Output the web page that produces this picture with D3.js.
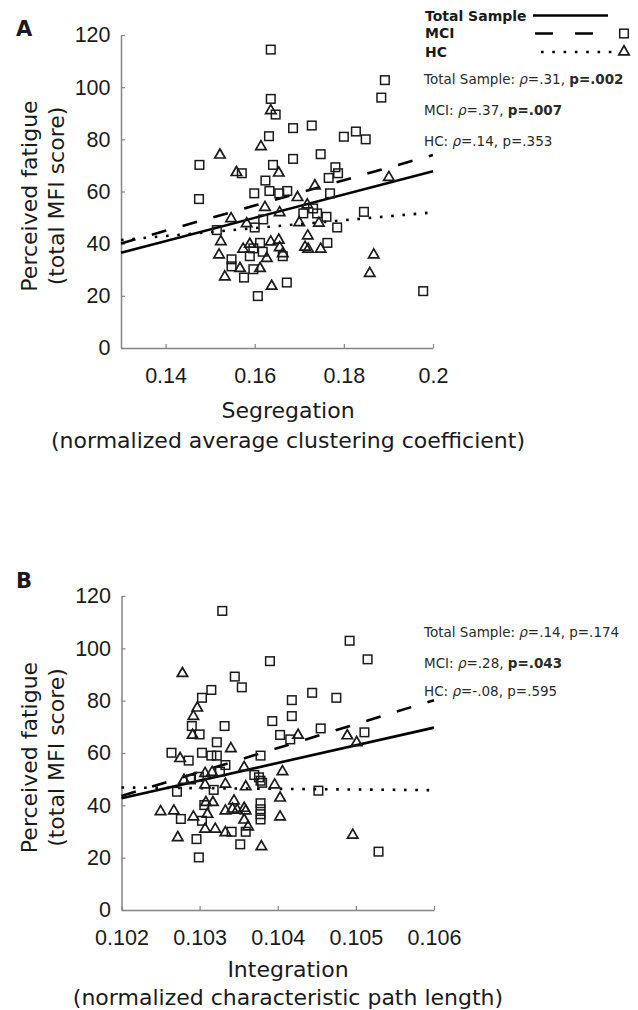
<!DOCTYPE html>
<html lang="en">
<head>
<meta charset="UTF-8">
<title>Fatigue vs network measures</title>
<script src="https://d3js.org/d3.v7.min.js"></script>
<style>
  body { margin: 0; background: #fff; }
  svg text { font-family: "DejaVu Sans", Verdana, sans-serif; }
</style>
</head>
<body>
<script>
  // ---- data ----
  const fatigueTicks = [0, 20, 40, 60, 80, 100, 120];

  // panel A : segregation (normalized average clustering coefficient)
  const segTicks = [0.14, 0.16, 0.18, 0.2];
  const segTickLabels = ["0.14", "0.16", "0.18", "0.2"];
  const segMCI = [
    [0.1636,114.4],[0.1636,95.5],[0.1647,89.5],[0.1686,84.3],[0.1728,85.3],[0.1632,81.2],
    [0.1476,70.2],[0.1748,74.3],[0.1686,72.5],[0.1641,70.2],[0.1571,67.0],[0.1624,64.2],
    [0.1766,65.2],[0.1475,57.1],[0.1599,59.3],[0.1633,60.2],[0.1655,59.3],[0.1673,60.2],
    [0.1769,59.3],[0.1731,53.5],[0.1740,51.6],[0.1709,51.6],[0.1761,50.3],[0.1619,49.3],
    [0.1600,46.2],[0.1515,45.2],[0.1548,34.0],[0.1548,31.3],[0.1576,27.0],[0.1597,30.2],
    [0.1589,35.2],[0.1597,38.2],[0.1612,40.3],[0.1618,36.9],[0.1663,35.2],[0.1763,40.3],
    [0.1607,19.9],[0.1672,25.1],[0.1781,69.3],[0.1787,67.0],[0.1785,46.2],[0.1845,52.2],
    [0.1978,21.8],[0.1892,102.7],[0.1884,96.0],[0.1800,81.0],[0.1827,83.0],[0.1849,80.0]
  ];
  const segHC = [
    [0.1636,91.3],[0.1614,77.5],[0.1522,74.3],[0.1559,67.6],[0.1654,67.4],[0.1735,62.5],
    [0.1696,58.0],[0.1623,54.2],[0.1656,52.2],[0.1718,55.2],[0.1547,49.9],[0.1582,48.0],
    [0.1700,48.4],[0.1744,48.2],[0.1524,41.1],[0.1520,36.0],[0.1533,27.6],[0.1567,30.8],
    [0.1612,30.8],[0.1627,34.7],[0.1574,38.2],[0.1589,40.1],[0.1636,41.0],[0.1654,41.7],
    [0.1656,38.8],[0.1663,36.5],[0.1719,43.3],[0.1713,39.0],[0.1720,38.2],[0.1748,38.2],
    [0.1638,24.0],[0.1901,65.7],[0.1867,36.0],[0.1858,28.9]
  ];
  const segFitTotal = [[0.13, 36.5], [0.2, 67.8]];
  const segFitMCI = [[0.13, 40.1], [0.2, 74.0]];
  const segFitHC = [[0.13, 41.4], [0.2, 52.0]];
  const segStats = [["Total Sample", ".31", ".002"], ["MCI", ".37", ".007"], ["HC", ".14", ".353"]];

  // panel B : integration (normalized characteristic path length)
  const intTicks = [0.102, 0.103, 0.104, 0.105, 0.106];
  const intTickLabels = ["0.102", "0.103", "0.104", "0.105", "0.106"];
  const intMCI = [
    [0.10329,114.3],[0.10390,95.1],[0.10345,89.2],[0.10354,85.1],[0.10315,84.1],[0.10303,81.1],
    [0.10290,70.3],[0.10332,70.3],[0.10300,67.1],[0.10393,72.2],[0.10403,66.9],[0.10322,64.1],
    [0.10264,60.1],[0.10286,57.1],[0.10303,60.1],[0.10315,59.0],[0.10322,59.0],[0.10378,59.0],
    [0.10416,65.2],[0.10370,51.6],[0.10376,50.7],[0.10378,49.4],[0.10326,52.9],[0.10333,55.4],
    [0.10289,49.9],[0.10299,50.9],[0.10380,48.6],[0.10271,45.2],[0.10318,45.9],[0.10306,40.1],
    [0.10378,40.8],[0.10378,38.5],[0.10378,36.6],[0.10378,34.6],[0.10276,34.8],[0.10303,34.1],
    [0.10341,29.9],[0.10359,29.9],[0.10296,27.1],[0.10352,25.1],[0.10299,20.1],[0.10492,102.9],
    [0.10515,95.8],[0.10444,83.0],[0.10475,81.1],[0.10418,80.2],[0.10418,74.1],[0.10455,69.4],
    [0.10511,67.9],[0.10452,45.6],[0.10529,22.3]
  ];
  const intHC = [
    [0.10278,90.7],[0.10297,77.5],[0.10292,74.3],[0.10291,67.1],[0.10340,62.0],[0.10275,58.2],
    [0.10426,67.1],[0.10406,53.2],[0.10357,54.8],[0.10280,49.9],[0.10307,52.5],[0.10316,52.9],
    [0.10307,48.1],[0.10333,48.4],[0.10359,47.4],[0.10396,48.1],[0.10403,43.1],[0.10308,41.4],
    [0.10317,41.4],[0.10344,42.0],[0.10250,37.9],[0.10267,38.2],[0.10310,36.9],[0.10333,38.2],
    [0.10342,38.9],[0.10348,38.5],[0.10357,39.2],[0.10359,38.2],[0.10403,35.9],[0.10292,35.9],
    [0.10357,34.7],[0.10362,32.1],[0.10307,31.2],[0.10320,31.2],[0.10333,29.9],[0.10272,28.0],
    [0.10379,24.5],[0.10489,66.9],[0.10501,64.3],[0.10496,28.9]
  ];
  const intFitTotal = [[0.102, 42.7], [0.106, 69.7]];
  const intFitMCI = [[0.102, 43.6], [0.106, 80.2]];
  const intFitHC = [[0.102, 46.8], [0.106, 45.8]];
  const intStats = [["Total Sample", ".14", ".174"], ["MCI", ".28", ".043"], ["HC", "-.08", ".595"]];

  // ---- drawing ----
  const svg = d3.select("body").append("svg")
      .attr("width", 638)
      .attr("height", 1010);

  const ink = "#1a1a1a";
  const dashMCI = "15,17";
  const dotHC = "2.6,8.7";
  const triPath = "M0,-5.2L5.2,3.8L-5.2,3.8Z";

  function panel(o) {
    const x = d3.scaleLinear().domain(o.xDomain).range([o.left, o.right]);
    const y = d3.scaleLinear().domain([0, 120]).range([o.bottom, o.top]);
    const g = svg.append("g");

    // axes, ticks point inwards like matlab
    const xAxis = g.append("g")
        .attr("transform", `translate(0,${o.bottom})`)
        .call(d3.axisBottom(x).tickValues(o.xTicks).tickFormat((d, i) => o.xLabels[i])
            .tickSizeInner(-4).tickSizeOuter(0).tickPadding(19.5));
    const yAxis = g.append("g")
        .attr("transform", `translate(${o.left},0)`)
        .call(d3.axisLeft(y).tickValues(fatigueTicks)
            .tickSizeInner(-4).tickSizeOuter(0).tickPadding(10.5));
    [xAxis, yAxis].forEach(a => {
      a.select(".domain").attr("stroke", "#858585").attr("stroke-width", 1.5);
      a.selectAll(".tick line").attr("stroke", "#858585").attr("stroke-width", 1.2);
      a.selectAll(".tick text")
          .attr("fill", ink)
          .style("font-family", "'Liberation Sans', Arial, sans-serif")
          .style("font-size", "21.5px");
    });

    // regression lines
    const fits = [
      {d: o.fitTotal, dash: null},
      {d: o.fitMCI, dash: dashMCI},
      {d: o.fitHC, dash: dotHC}
    ];
    fits.forEach(f => {
      g.append("line")
          .attr("x1", x(f.d[0][0])).attr("y1", y(f.d[0][1]))
          .attr("x2", x(f.d[1][0])).attr("y2", y(f.d[1][1]))
          .attr("stroke", "#000")
          .attr("stroke-width", 2.6)
          .attr("stroke-dasharray", f.dash);
    });

    // points
    g.append("g").selectAll("rect")
        .data(o.mci)
        .join("rect")
        .attr("x", d => x(d[0]) - 4.3)
        .attr("y", d => y(d[1]) - 4.3)
        .attr("width", 8.6)
        .attr("height", 8.6)
        .attr("fill", "none")
        .attr("stroke", ink)
        .attr("stroke-width", 1.5);
    g.append("g").selectAll("path")
        .data(o.hc)
        .join("path")
        .attr("d", triPath)
        .attr("transform", d => `translate(${x(d[0])},${y(d[1])})`)
        .attr("fill", "none")
        .attr("stroke", ink)
        .attr("stroke-width", 1.7)
        .attr("stroke-linejoin", "miter");

    // titles
    g.append("text")
        .attr("x", 16).attr("y", o.letterY)
        .attr("font-weight", "bold").attr("font-size", 21)
        .attr("fill", ink)
        .text(o.letter);
    const yc = (o.top + o.bottom) / 2 + 4.5;
    [["Perceived fatigue", 37], ["(total MFI score)", 63.5]].forEach(t => {
      g.append("text")
          .attr("transform", `translate(${t[1]},${yc}) rotate(-90)`)
          .attr("text-anchor", "middle")
          .attr("font-size", 22)
          .attr("fill", ink)
          .text(t[0]);
    });
    o.xTitle.forEach((t, i) => {
      g.append("text")
          .attr("x", 288).attr("y", o.xTitleY[i])
          .attr("text-anchor", "middle")
          .attr("font-size", 22)
          .attr("fill", ink)
          .text(t);
    });

    // correlation stats
    o.stats.forEach((s, i) => {
      const t = g.append("text")
          .attr("x", 424).attr("y", o.statY[i])
          .attr("font-size", 13.5)
          .attr("fill", "#2a2a2a");
      t.append("tspan").text(s[0] + ": ");
      t.append("tspan").attr("font-style", "italic").text("\u03c1");
      t.append("tspan").text("=" + s[1] + ", ");
      t.append("tspan").attr("font-weight", +s[2] < 0.05 ? "bold" : null).text("p=" + s[2]);
    });
  }

  panel({
    letter: "A", letterY: 36,
    xDomain: [0.13, 0.2], left: 121, right: 433, top: 35, bottom: 348,
    xTicks: segTicks, xLabels: segTickLabels,
    mci: segMCI, hc: segHC,
    fitTotal: segFitTotal, fitMCI: segFitMCI, fitHC: segFitHC,
    xTitle: ["Segregation", "(normalized average clustering coefficient)"], xTitleY: [418, 448],
    stats: segStats, statY: [83.5, 115, 146]
  });

  panel({
    letter: "B", letterY: 588,
    xDomain: [0.102, 0.106], left: 121.5, right: 434, top: 596, bottom: 910,
    xTicks: intTicks, xLabels: intTickLabels,
    mci: intMCI, hc: intHC,
    fitTotal: intFitTotal, fitMCI: intFitMCI, fitHC: intFitHC,
    xTitle: ["Integration", "(normalized characteristic path length)"], xTitleY: [977, 1005],
    stats: intStats, statY: [637, 667.5, 695.5]
  });

  // legend (top right)
  const leg = svg.append("g");
  const legRows = [
    {name: "Total Sample", y: 20.7, ly: 15.5, x1: 533, x2: 608, dash: null, mark: null},
    {name: "MCI", y: 38.3, ly: 33.5, x1: 535, x2: 613, dash: "18,22", mark: "sq"},
    {name: "HC", y: 56.7, ly: 52, x1: 541, x2: 612, dash: dotHC, mark: "tri"}
  ];
  legRows.forEach(r => {
    leg.append("text")
        .attr("x", 425).attr("y", r.y)
        .attr("font-weight", "bold").attr("font-size", 14)
        .attr("fill", ink)
        .text(r.name);
    leg.append("line")
        .attr("x1", r.x1).attr("x2", r.x2)
        .attr("y1", r.ly).attr("y2", r.ly)
        .attr("stroke", "#000").attr("stroke-width", 2.6)
        .attr("stroke-dasharray", r.dash);
    if (r.mark === "sq") {
      leg.append("rect")
          .attr("x", 624 - 4.3).attr("y", r.ly - 4.3)
          .attr("width", 8.6).attr("height", 8.6)
          .attr("fill", "none").attr("stroke", ink).attr("stroke-width", 1.5);
    } else if (r.mark === "tri") {
      leg.append("path")
          .attr("d", triPath)
          .attr("transform", `translate(624,${r.ly - 1})`)
          .attr("fill", "none").attr("stroke", ink).attr("stroke-width", 1.7);
    }
  });
</script>
</body>
</html>
